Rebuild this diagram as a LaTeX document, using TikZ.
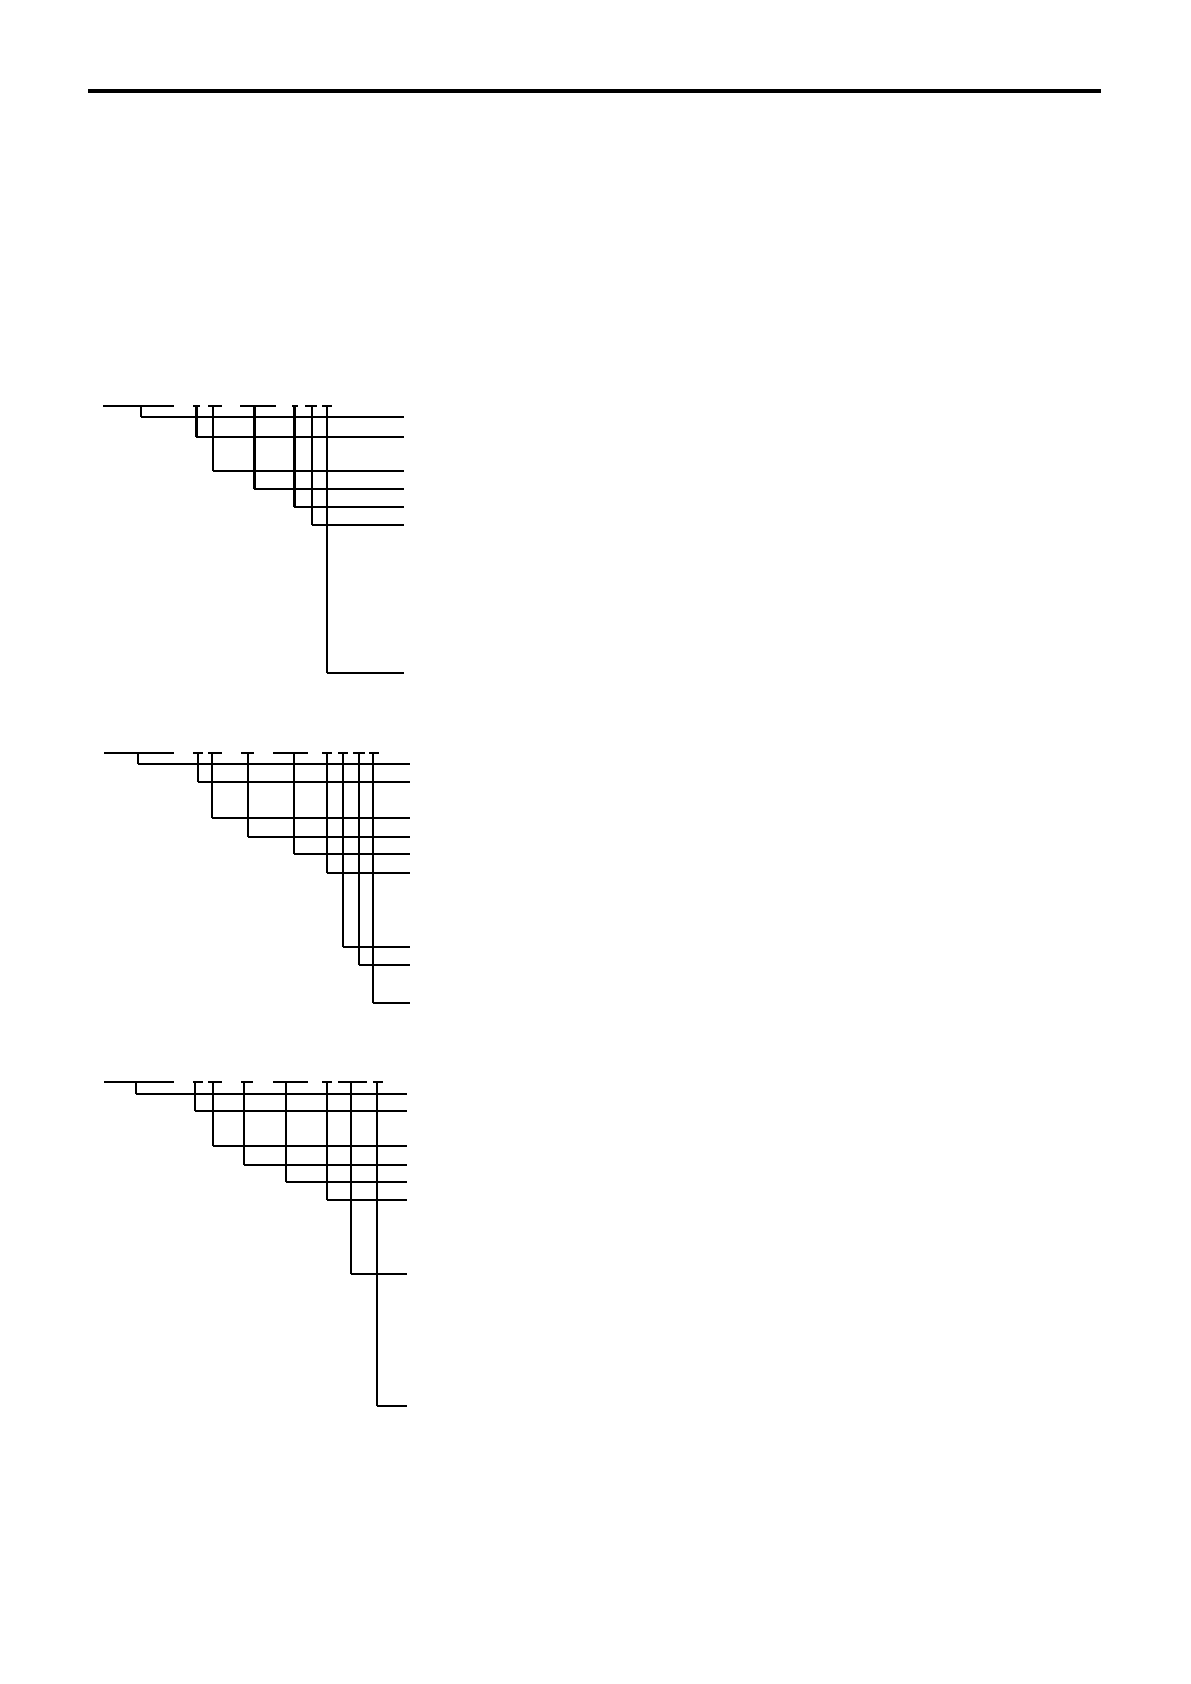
\documentclass[tikz,border=0pt]{standalone}
\begin{document}
\begin{tikzpicture}[x=0.5pt,y=-0.5pt,line cap=butt,
  rule/.style={line width=2pt},
  wire/.style={line width=1pt}]
\useasboundingbox (0,0) rectangle (1190,1684);
% header rule
\coordinate (ruleL) at (88,91);
\coordinate (ruleR) at (1101,91);
\draw[rule] (ruleL) -- (ruleR);
% diagram 1
\foreach \a/\b/\v/\r/\w in {103/174/141/417/1,193/200/196/437/1.5,208/222/213/471/1,240/276/254/489/1.5,292/298/294/507/1.5,305/317/312/525/1,322/332/327/673/1}{
  \draw[wire] (\a,406) -- (\b,406);
  \draw[line width=\w pt] (\v,406) -- (\v,\r);
  \draw[wire] (\v,\r) -- (404,\r);
}
% diagram 2
\foreach \a/\b/\v/\r/\w in {104/174/138/764/1,193/203/198/782/0.6,208/222/212/818/1,241/254/248/837/1,273/308/294/854/1,322/332/327/873/1,338/348/343/947/1,353/365/359/965/1,369/379/373/1003/1}{
  \draw[wire] (\a,753) -- (\b,753);
  \draw[line width=\w pt] (\v,753) -- (\v,\r);
  \draw[wire] (\v,\r) -- (410,\r);
}
% diagram 3
\foreach \a/\b/\v/\r/\w in {104/174/136/1094/1,193/203/195/1111/1,208/222/213/1146/1,241/253/244/1165/1,273/308/286/1182/1,322/332/327/1200/1,338/367/351/1274/1,373/383/377/1406/1}{
  \draw[wire] (\a,1082) -- (\b,1082);
  \draw[line width=\w pt] (\v,1082) -- (\v,\r);
  \draw[wire] (\v,\r) -- (407,\r);
}
\end{tikzpicture}
\end{document}
